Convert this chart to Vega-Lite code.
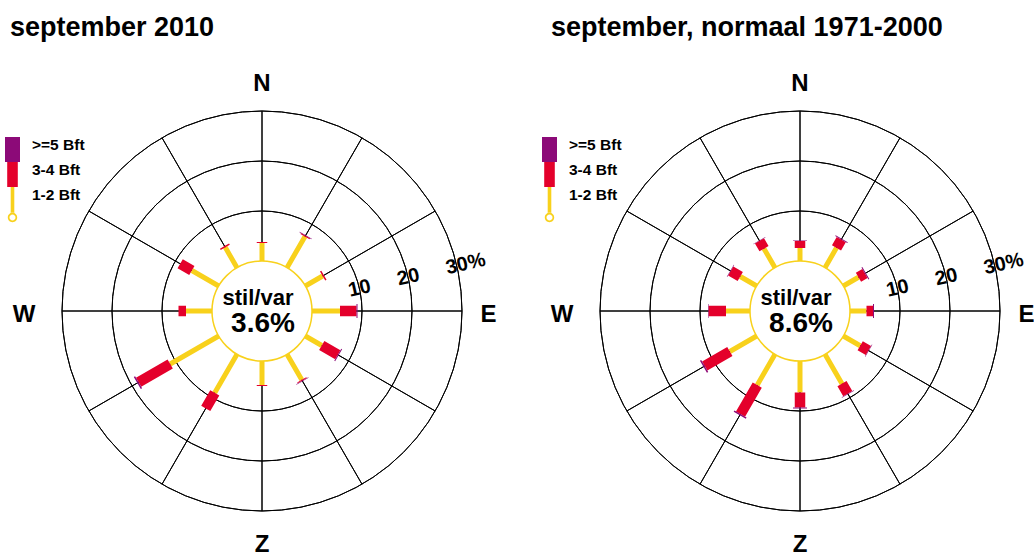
{
  "$schema": "https://vega.github.io/schema/vega-lite/v6.json",
  "background": "white",
  "padding": {"left": 0, "top": 14, "right": 0, "bottom": 0},
  "spacing": 52,
  "bounds": "flush",
  "resolve": {
    "scale": {"fill": "independent", "stroke": "independent", "color": "independent"},
    "legend": {"fill": "independent", "stroke": "independent", "color": "independent"}
  },
  "config": {
    "view": {"stroke": null},
    "text": {"font": "Liberation Sans", "color": "black"},
    "legend": {"orient": "none", "title": null, "symbolSize": 625, "symbolStrokeWidth": 0, "symbolOpacity": 1, "padding": 0, "labelFont": "Liberation Sans", "labelFontSize": 15.5, "labelFontWeight": "bold", "labelColor": "black", "labelOffset": 7, "labelBaseline": "alphabetic"}
  },
  "datasets": {
    "dirs": [{"dir": 0}, {"dir": 30}, {"dir": 60}, {"dir": 90}, {"dir": 120}, {"dir": 150}, {"dir": 180}, {"dir": 210}, {"dir": 240}, {"dir": 270}, {"dir": 300}, {"dir": 330}],
    "rings": [{"ring": 0}, {"ring": 10}, {"ring": 20}, {"ring": 30}],
    "compass": [{"name": "N", "dir": 0}, {"name": "E", "dir": 90}, {"name": "Z", "dir": 180}, {"name": "W", "dir": 270}],
    "ringlabels": [{"label": "10", "ring": 10}, {"label": "20", "ring": 20}, {"label": "30%", "ring": 30}],
    "calm": [{"period": "september 2010", "calm": 0.036}, {"period": "september, normaal 1971-2000", "calm": 0.086}],
    "wind": [
      {"period": "september 2010", "dir": 0, "band": "1-2 Bft", "pct": 3.6}, {"period": "september 2010", "dir": 0, "band": "3-4 Bft", "pct": 0.2}, {"period": "september 2010", "dir": 0, "band": ">=5 Bft", "pct": 0},
      {"period": "september 2010", "dir": 30, "band": "1-2 Bft", "pct": 7.2}, {"period": "september 2010", "dir": 30, "band": "3-4 Bft", "pct": 0.2}, {"period": "september 2010", "dir": 30, "band": ">=5 Bft", "pct": 0.1},
      {"period": "september 2010", "dir": 60, "band": "1-2 Bft", "pct": 4.0}, {"period": "september 2010", "dir": 60, "band": "3-4 Bft", "pct": 0.3}, {"period": "september 2010", "dir": 60, "band": ">=5 Bft", "pct": 0},
      {"period": "september 2010", "dir": 90, "band": "1-2 Bft", "pct": 5.6}, {"period": "september 2010", "dir": 90, "band": "3-4 Bft", "pct": 3.3}, {"period": "september 2010", "dir": 90, "band": ">=5 Bft", "pct": 0.2},
      {"period": "september 2010", "dir": 120, "band": "1-2 Bft", "pct": 3.8}, {"period": "september 2010", "dir": 120, "band": "3-4 Bft", "pct": 3.7}, {"period": "september 2010", "dir": 120, "band": ">=5 Bft", "pct": 0.2},
      {"period": "september 2010", "dir": 150, "band": "1-2 Bft", "pct": 5.9}, {"period": "september 2010", "dir": 150, "band": "3-4 Bft", "pct": 0.2}, {"period": "september 2010", "dir": 150, "band": ">=5 Bft", "pct": 0.1},
      {"period": "september 2010", "dir": 180, "band": "1-2 Bft", "pct": 4.8}, {"period": "september 2010", "dir": 180, "band": "3-4 Bft", "pct": 0.2}, {"period": "september 2010", "dir": 180, "band": ">=5 Bft", "pct": 0},
      {"period": "september 2010", "dir": 210, "band": "1-2 Bft", "pct": 8.9}, {"period": "september 2010", "dir": 210, "band": "3-4 Bft", "pct": 3.6}, {"period": "september 2010", "dir": 210, "band": ">=5 Bft", "pct": 0},
      {"period": "september 2010", "dir": 240, "band": "1-2 Bft", "pct": 11.2}, {"period": "september 2010", "dir": 240, "band": "3-4 Bft", "pct": 7.3}, {"period": "september 2010", "dir": 240, "band": ">=5 Bft", "pct": 0.3},
      {"period": "september 2010", "dir": 270, "band": "1-2 Bft", "pct": 5.2}, {"period": "september 2010", "dir": 270, "band": "3-4 Bft", "pct": 1.5}, {"period": "september 2010", "dir": 270, "band": ">=5 Bft", "pct": 0},
      {"period": "september 2010", "dir": 300, "band": "1-2 Bft", "pct": 6.2}, {"period": "september 2010", "dir": 300, "band": "3-4 Bft", "pct": 2.7}, {"period": "september 2010", "dir": 300, "band": ">=5 Bft", "pct": 0},
      {"period": "september 2010", "dir": 330, "band": "1-2 Bft", "pct": 4.7}, {"period": "september 2010", "dir": 330, "band": "3-4 Bft", "pct": 0.3}, {"period": "september 2010", "dir": 330, "band": ">=5 Bft", "pct": 0},
      {"period": "september, normaal 1971-2000", "dir": 0, "band": "1-2 Bft", "pct": 2.6}, {"period": "september, normaal 1971-2000", "dir": 0, "band": "3-4 Bft", "pct": 1.4}, {"period": "september, normaal 1971-2000", "dir": 0, "band": ">=5 Bft", "pct": 0.1},
      {"period": "september, normaal 1971-2000", "dir": 30, "band": "1-2 Bft", "pct": 4.6}, {"period": "september, normaal 1971-2000", "dir": 30, "band": "3-4 Bft", "pct": 1.9}, {"period": "september, normaal 1971-2000", "dir": 30, "band": ">=5 Bft", "pct": 0.2},
      {"period": "september, normaal 1971-2000", "dir": 60, "band": "1-2 Bft", "pct": 3.5}, {"period": "september, normaal 1971-2000", "dir": 60, "band": "3-4 Bft", "pct": 1.5}, {"period": "september, normaal 1971-2000", "dir": 60, "band": ">=5 Bft", "pct": 0.2},
      {"period": "september, normaal 1971-2000", "dir": 90, "band": "1-2 Bft", "pct": 3.3}, {"period": "september, normaal 1971-2000", "dir": 90, "band": "3-4 Bft", "pct": 1.3}, {"period": "september, normaal 1971-2000", "dir": 90, "band": ">=5 Bft", "pct": 0.2},
      {"period": "september, normaal 1971-2000", "dir": 120, "band": "1-2 Bft", "pct": 3.9}, {"period": "september, normaal 1971-2000", "dir": 120, "band": "3-4 Bft", "pct": 1.9}, {"period": "september, normaal 1971-2000", "dir": 120, "band": ">=5 Bft", "pct": 0.1},
      {"period": "september, normaal 1971-2000", "dir": 150, "band": "1-2 Bft", "pct": 6.8}, {"period": "september, normaal 1971-2000", "dir": 150, "band": "3-4 Bft", "pct": 2.3}, {"period": "september, normaal 1971-2000", "dir": 150, "band": ">=5 Bft", "pct": 0.1},
      {"period": "september, normaal 1971-2000", "dir": 180, "band": "1-2 Bft", "pct": 6.3}, {"period": "september, normaal 1971-2000", "dir": 180, "band": "3-4 Bft", "pct": 3.0}, {"period": "september, normaal 1971-2000", "dir": 180, "band": ">=5 Bft", "pct": 0.2},
      {"period": "september, normaal 1971-2000", "dir": 210, "band": "1-2 Bft", "pct": 7.1}, {"period": "september, normaal 1971-2000", "dir": 210, "band": "3-4 Bft", "pct": 6.7}, {"period": "september, normaal 1971-2000", "dir": 210, "band": ">=5 Bft", "pct": 0.3},
      {"period": "september, normaal 1971-2000", "dir": 240, "band": "1-2 Bft", "pct": 6.2}, {"period": "september, normaal 1971-2000", "dir": 240, "band": "3-4 Bft", "pct": 5.8}, {"period": "september, normaal 1971-2000", "dir": 240, "band": ">=5 Bft", "pct": 0.3},
      {"period": "september, normaal 1971-2000", "dir": 270, "band": "1-2 Bft", "pct": 4.8}, {"period": "september, normaal 1971-2000", "dir": 270, "band": "3-4 Bft", "pct": 3.5}, {"period": "september, normaal 1971-2000", "dir": 270, "band": ">=5 Bft", "pct": 0.1},
      {"period": "september, normaal 1971-2000", "dir": 300, "band": "1-2 Bft", "pct": 3.8}, {"period": "september, normaal 1971-2000", "dir": 300, "band": "3-4 Bft", "pct": 2.2}, {"period": "september, normaal 1971-2000", "dir": 300, "band": ">=5 Bft", "pct": 0.1},
      {"period": "september, normaal 1971-2000", "dir": 330, "band": "1-2 Bft", "pct": 4.4}, {"period": "september, normaal 1971-2000", "dir": 330, "band": "3-4 Bft", "pct": 1.8}, {"period": "september, normaal 1971-2000", "dir": 330, "band": ">=5 Bft", "pct": 0.1}
    ]
  },
  "hconcat": [
    {
      "width": 524,
      "height": 488,
      "title": {"text": "september 2010", "anchor": "start", "frame": "group", "dx": 10, "offset": 4, "baseline": "alphabetic", "font": "Liberation Sans", "fontSize": 27, "fontWeight": "bold", "color": "black"},
      "layer": [
        {
          "data": {"name": "rings"},
          "transform": [{"filter": "datum.ring > 0"}],
          "mark": {"type": "arc", "filled": false, "stroke": "black", "strokeWidth": 1},
          "encoding": {
            "theta": {"datum": 0, "type": "quantitative", "scale": {"type": "linear", "domain": [0, 360], "range": [0, 6.283185307179586]}},
            "theta2": {"datum": 360},
            "radius": {"field": "ring", "type": "quantitative", "scale": {"type": "linear", "domain": [0, 30], "range": [50, 200]}},
            "radius2": {"field": "ring"}
          }
        },
        {
          "data": {"name": "dirs"},
          "mark": {"type": "arc", "filled": false, "stroke": "black", "strokeWidth": 1},
          "encoding": {
            "theta": {"field": "dir", "type": "quantitative"},
            "theta2": {"field": "dir"},
            "radius": {"datum": 30, "type": "quantitative"},
            "radius2": {"datum": 0}
          }
        },
        {
          "data": {"name": "wind"},
          "transform": [
            {"filter": "datum.period === 'september 2010'"},
            {"stack": "pct", "groupby": ["dir"], "sort": [{"field": "band", "order": "ascending"}], "as": ["r0", "r1"]},
            {"filter": "datum.band === '1-2 Bft'"}
          ],
          "mark": {"type": "arc", "fill": "#f8d11c", "strokeJoin": "bevel"},
          "encoding": {
            "theta": {"field": "dir", "type": "quantitative"},
            "theta2": {"field": "dir"},
            "radius": {"field": "r1", "type": "quantitative"},
            "radius2": {"field": "r0"},
            "strokeWidth": {"value": 5},
            "stroke": {"field": "band", "type": "nominal", "scale": {"domain": ["1-2 Bft"], "range": ["#f8d11c"]},
              "legend": {"legendX": 0, "legendY": 120, "symbolFillColor": "#f8d11c", "symbolType": "M-0.144,-1H0.144V1.08H-0.144Z M-0.376,1.44A0.376,0.376 0 1,0 0.376,1.44A0.376,0.376 0 1,0 -0.376,1.44Z M-0.24,1.44A0.24,0.24 0 1,1 0.24,1.44A0.24,0.24 0 1,1 -0.24,1.44Z"}}
          }
        },
        {
          "data": {"name": "wind"},
          "transform": [
            {"filter": "datum.period === 'september 2010'"},
            {"stack": "pct", "groupby": ["dir"], "sort": [{"field": "band", "order": "ascending"}], "as": ["r0", "r1"]},
            {"filter": "datum.band === '3-4 Bft'"}
          ],
          "mark": {"type": "arc", "strokeJoin": "bevel"},
          "encoding": {
            "theta": {"field": "dir", "type": "quantitative"},
            "theta2": {"field": "dir"},
            "radius": {"field": "r1", "type": "quantitative"},
            "radius2": {"field": "r0"},
            "strokeWidth": {"value": 10.5},
            "stroke": {"value": "#e4002b"},
            "fill": {"field": "band", "type": "nominal", "scale": {"domain": ["3-4 Bft"], "range": ["#e4002b"]},
              "legend": {"legendX": 0, "legendY": 95, "symbolType": "M-0.424,-1H0.424V1H-0.424Z"}}
          }
        },
        {
          "data": {"name": "wind"},
          "transform": [
            {"filter": "datum.period === 'september 2010'"},
            {"stack": "pct", "groupby": ["dir"], "sort": [{"field": "band", "order": "ascending"}], "as": ["r0", "r1"]},
            {"filter": "datum.band === '>=5 Bft'"}
          ],
          "mark": {"type": "arc", "strokeJoin": "bevel"},
          "encoding": {
            "theta": {"field": "dir", "type": "quantitative"},
            "theta2": {"field": "dir"},
            "radius": {"field": "r1", "type": "quantitative"},
            "radius2": {"field": "r0"},
            "strokeWidth": {"value": 14},
            "stroke": {"value": "#8c0a78"},
            "color": {"field": "band", "type": "nominal", "scale": {"domain": [">=5 Bft"], "range": ["#8c0a78"]},
              "legend": {"legendX": 0, "legendY": 70, "symbolType": "M-0.6,-1H0.6V1H-0.6Z"}}
          }
        },
        {
          "data": {"name": "rings"},
          "transform": [{"filter": "datum.ring === 0"}],
          "mark": {"type": "arc", "filled": false, "stroke": "#f8d11c", "strokeWidth": 1.5},
          "encoding": {
            "theta": {"datum": 0, "type": "quantitative"},
            "theta2": {"datum": 360},
            "radius": {"field": "ring", "type": "quantitative"},
            "radius2": {"field": "ring"}
          }
        },
        {
          "data": {"name": "compass"},
          "transform": [{"filter": "datum.name === 'N' || datum.name === 'Z'"}],
          "mark": {"type": "text", "font": "Liberation Sans", "fontWeight": "bold", "fontSize": 24, "align": "center", "baseline": "middle", "dy": 3},
          "encoding": {"theta": {"field": "dir", "type": "quantitative"}, "radius": {"datum": 36.1, "type": "quantitative"}, "text": {"field": "name"}}
        },
        {
          "data": {"name": "compass"},
          "transform": [{"filter": "datum.name === 'E'"}],
          "mark": {"type": "text", "font": "Liberation Sans", "fontWeight": "bold", "fontSize": 24, "align": "center", "baseline": "middle", "dy": 4},
          "encoding": {"theta": {"field": "dir", "type": "quantitative"}, "radius": {"datum": 35.3, "type": "quantitative"}, "text": {"field": "name"}}
        },
        {
          "data": {"name": "compass"},
          "transform": [{"filter": "datum.name === 'W'"}],
          "mark": {"type": "text", "font": "Liberation Sans", "fontWeight": "bold", "fontSize": 24, "align": "center", "baseline": "middle", "dy": 4},
          "encoding": {"theta": {"field": "dir", "type": "quantitative"}, "radius": {"datum": 37.6, "type": "quantitative"}, "text": {"field": "name"}}
        },
        {
          "data": {"name": "ringlabels"},
          "mark": {"type": "text", "font": "Liberation Sans", "fontWeight": "bold", "fontSize": 20, "align": "left", "baseline": "middle", "angle": 347, "dx": -11},
          "encoding": {"theta": {"datum": 77, "type": "quantitative"}, "radius": {"field": "ring", "type": "quantitative"}, "text": {"field": "label"}}
        },
        {
          "data": {"name": "calm"},
          "transform": [{"filter": "datum.period === 'september 2010'"}],
          "mark": {"type": "text", "text": "stil/var", "font": "Liberation Sans", "fontWeight": "bold", "fontSize": 22, "align": "center", "baseline": "alphabetic", "dx": -4, "dy": -6.5},
          "encoding": {}
        },
        {
          "data": {"name": "calm"},
          "transform": [{"filter": "datum.period === 'september 2010'"}],
          "mark": {"type": "text", "font": "Liberation Sans", "fontWeight": "bold", "fontSize": 28, "align": "center", "baseline": "alphabetic", "dx": 1, "dy": 20.5},
          "encoding": {"text": {"field": "calm", "type": "quantitative", "format": ".1%"}}
        }
      ]
    },
    {
      "width": 448,
      "height": 488,
      "title": {"text": "september, normaal 1971-2000", "anchor": "start", "frame": "group", "dx": -25, "offset": 4, "baseline": "alphabetic", "font": "Liberation Sans", "fontSize": 27, "fontWeight": "bold", "color": "black"},
      "layer": [
        {
          "data": {"name": "rings"},
          "transform": [{"filter": "datum.ring > 0"}],
          "mark": {"type": "arc", "filled": false, "stroke": "black", "strokeWidth": 1},
          "encoding": {
            "theta": {"datum": 0, "type": "quantitative", "scale": {"type": "linear", "domain": [0, 360], "range": [0, 6.283185307179586]}},
            "theta2": {"datum": 360},
            "radius": {"field": "ring", "type": "quantitative", "scale": {"type": "linear", "domain": [0, 30], "range": [50, 200]}},
            "radius2": {"field": "ring"}
          }
        },
        {
          "data": {"name": "dirs"},
          "mark": {"type": "arc", "filled": false, "stroke": "black", "strokeWidth": 1},
          "encoding": {
            "theta": {"field": "dir", "type": "quantitative"},
            "theta2": {"field": "dir"},
            "radius": {"datum": 30, "type": "quantitative"},
            "radius2": {"datum": 0}
          }
        },
        {
          "data": {"name": "wind"},
          "transform": [
            {"filter": "datum.period === 'september, normaal 1971-2000'"},
            {"stack": "pct", "groupby": ["dir"], "sort": [{"field": "band", "order": "ascending"}], "as": ["r0", "r1"]},
            {"filter": "datum.band === '1-2 Bft'"}
          ],
          "mark": {"type": "arc", "fill": "#f8d11c", "strokeJoin": "bevel"},
          "encoding": {
            "theta": {"field": "dir", "type": "quantitative"},
            "theta2": {"field": "dir"},
            "radius": {"field": "r1", "type": "quantitative"},
            "radius2": {"field": "r0"},
            "strokeWidth": {"value": 5},
            "stroke": {"field": "band", "type": "nominal", "scale": {"domain": ["1-2 Bft"], "range": ["#f8d11c"]},
              "legend": {"legendX": -39, "legendY": 120, "symbolFillColor": "#f8d11c", "symbolType": "M-0.144,-1H0.144V1.08H-0.144Z M-0.376,1.44A0.376,0.376 0 1,0 0.376,1.44A0.376,0.376 0 1,0 -0.376,1.44Z M-0.24,1.44A0.24,0.24 0 1,1 0.24,1.44A0.24,0.24 0 1,1 -0.24,1.44Z"}}
          }
        },
        {
          "data": {"name": "wind"},
          "transform": [
            {"filter": "datum.period === 'september, normaal 1971-2000'"},
            {"stack": "pct", "groupby": ["dir"], "sort": [{"field": "band", "order": "ascending"}], "as": ["r0", "r1"]},
            {"filter": "datum.band === '3-4 Bft'"}
          ],
          "mark": {"type": "arc", "strokeJoin": "bevel"},
          "encoding": {
            "theta": {"field": "dir", "type": "quantitative"},
            "theta2": {"field": "dir"},
            "radius": {"field": "r1", "type": "quantitative"},
            "radius2": {"field": "r0"},
            "strokeWidth": {"value": 10.5},
            "stroke": {"value": "#e4002b"},
            "fill": {"field": "band", "type": "nominal", "scale": {"domain": ["3-4 Bft"], "range": ["#e4002b"]},
              "legend": {"legendX": -39, "legendY": 95, "symbolType": "M-0.424,-1H0.424V1H-0.424Z"}}
          }
        },
        {
          "data": {"name": "wind"},
          "transform": [
            {"filter": "datum.period === 'september, normaal 1971-2000'"},
            {"stack": "pct", "groupby": ["dir"], "sort": [{"field": "band", "order": "ascending"}], "as": ["r0", "r1"]},
            {"filter": "datum.band === '>=5 Bft'"}
          ],
          "mark": {"type": "arc", "strokeJoin": "bevel"},
          "encoding": {
            "theta": {"field": "dir", "type": "quantitative"},
            "theta2": {"field": "dir"},
            "radius": {"field": "r1", "type": "quantitative"},
            "radius2": {"field": "r0"},
            "strokeWidth": {"value": 14},
            "stroke": {"value": "#8c0a78"},
            "color": {"field": "band", "type": "nominal", "scale": {"domain": [">=5 Bft"], "range": ["#8c0a78"]},
              "legend": {"legendX": -39, "legendY": 70, "symbolType": "M-0.6,-1H0.6V1H-0.6Z"}}
          }
        },
        {
          "data": {"name": "rings"},
          "transform": [{"filter": "datum.ring === 0"}],
          "mark": {"type": "arc", "filled": false, "stroke": "#f8d11c", "strokeWidth": 1.5},
          "encoding": {
            "theta": {"datum": 0, "type": "quantitative"},
            "theta2": {"datum": 360},
            "radius": {"field": "ring", "type": "quantitative"},
            "radius2": {"field": "ring"}
          }
        },
        {
          "data": {"name": "compass"},
          "transform": [{"filter": "datum.name === 'N' || datum.name === 'Z'"}],
          "mark": {"type": "text", "font": "Liberation Sans", "fontWeight": "bold", "fontSize": 24, "align": "center", "baseline": "middle", "dy": 3},
          "encoding": {"theta": {"field": "dir", "type": "quantitative"}, "radius": {"datum": 36.1, "type": "quantitative"}, "text": {"field": "name"}}
        },
        {
          "data": {"name": "compass"},
          "transform": [{"filter": "datum.name === 'E'"}],
          "mark": {"type": "text", "font": "Liberation Sans", "fontWeight": "bold", "fontSize": 24, "align": "center", "baseline": "middle", "dy": 4},
          "encoding": {"theta": {"field": "dir", "type": "quantitative"}, "radius": {"datum": 35.3, "type": "quantitative"}, "text": {"field": "name"}}
        },
        {
          "data": {"name": "compass"},
          "transform": [{"filter": "datum.name === 'W'"}],
          "mark": {"type": "text", "font": "Liberation Sans", "fontWeight": "bold", "fontSize": 24, "align": "center", "baseline": "middle", "dy": 4},
          "encoding": {"theta": {"field": "dir", "type": "quantitative"}, "radius": {"datum": 37.6, "type": "quantitative"}, "text": {"field": "name"}}
        },
        {
          "data": {"name": "ringlabels"},
          "mark": {"type": "text", "font": "Liberation Sans", "fontWeight": "bold", "fontSize": 20, "align": "left", "baseline": "middle", "angle": 347, "dx": -11},
          "encoding": {"theta": {"datum": 77, "type": "quantitative"}, "radius": {"field": "ring", "type": "quantitative"}, "text": {"field": "label"}}
        },
        {
          "data": {"name": "calm"},
          "transform": [{"filter": "datum.period === 'september, normaal 1971-2000'"}],
          "mark": {"type": "text", "text": "stil/var", "font": "Liberation Sans", "fontWeight": "bold", "fontSize": 22, "align": "center", "baseline": "alphabetic", "dx": -4, "dy": -6.5},
          "encoding": {}
        },
        {
          "data": {"name": "calm"},
          "transform": [{"filter": "datum.period === 'september, normaal 1971-2000'"}],
          "mark": {"type": "text", "font": "Liberation Sans", "fontWeight": "bold", "fontSize": 28, "align": "center", "baseline": "alphabetic", "dx": 1, "dy": 20.5},
          "encoding": {"text": {"field": "calm", "type": "quantitative", "format": ".1%"}}
        }
      ]
    }
  ]
}
